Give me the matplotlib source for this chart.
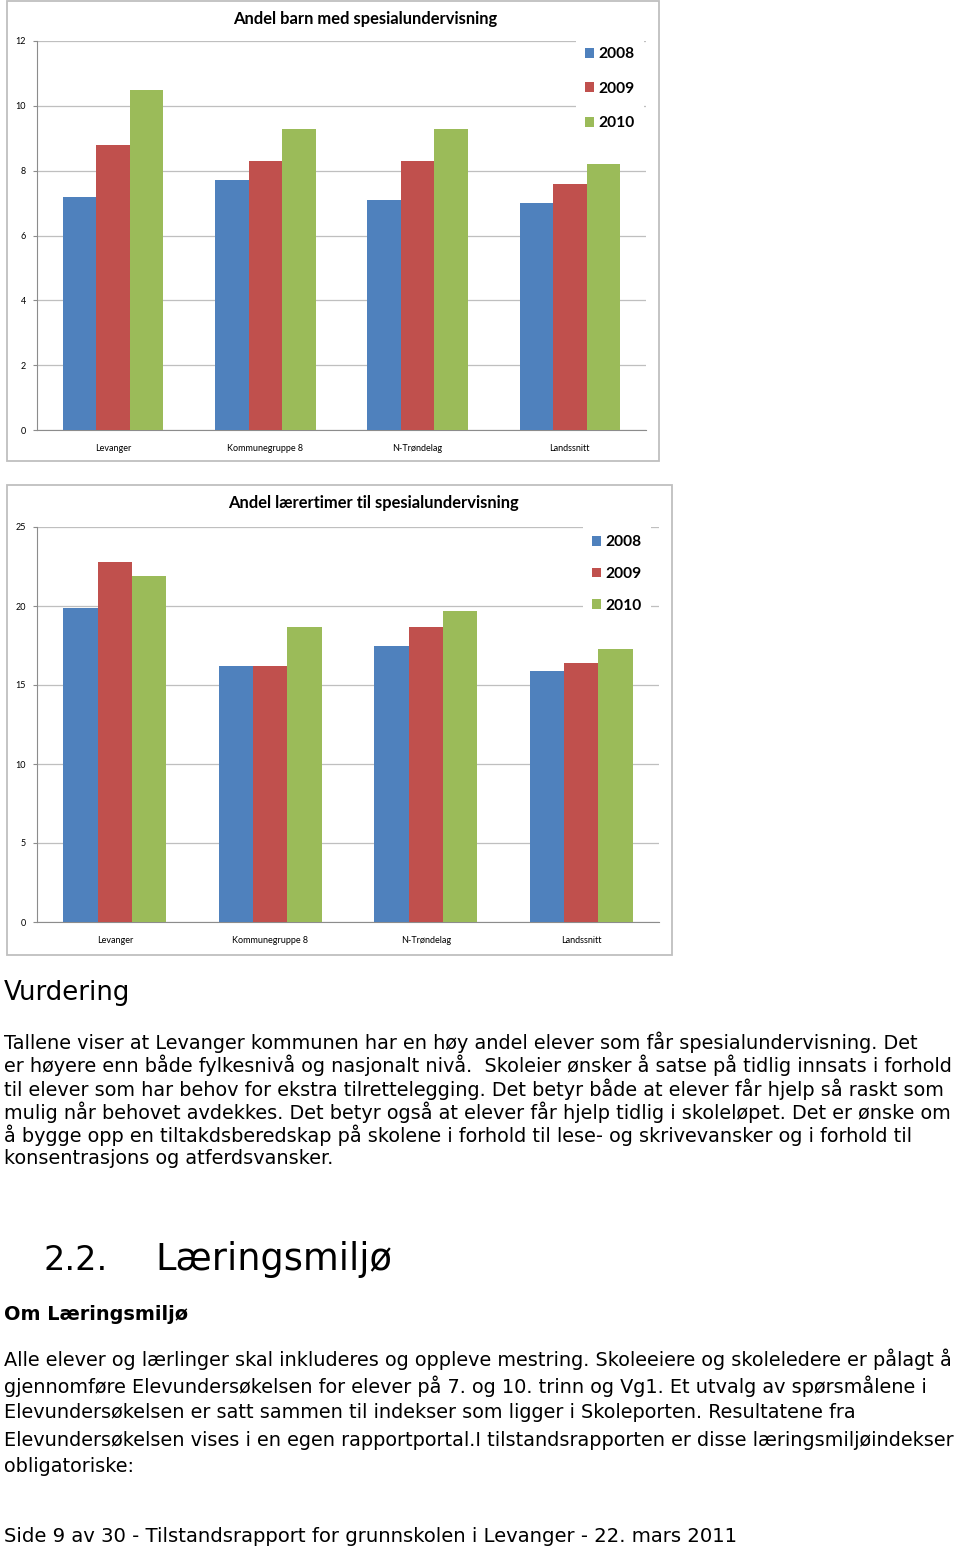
import matplotlib
matplotlib.use("Agg")
import matplotlib.pyplot as plt
from matplotlib.patches import Rectangle
import numpy as np

# data
categories = ["Levanger", "Kommunegruppe 8", "N-Trøndelag", "Landssnitt"]
years = ["2008", "2009", "2010"]
barn_2008 = [7.2, 7.7, 7.1, 7.0]
barn_2009 = [8.8, 8.3, 8.3, 7.6]
barn_2010 = [10.5, 9.3, 9.3, 8.2]
timer_2008 = [19.9, 16.2, 17.5, 15.9]
timer_2009 = [22.8, 16.2, 18.7, 16.4]
timer_2010 = [21.9, 18.7, 19.7, 17.3]

colors = ["#4F81BD", "#C0504D", "#9BBB59"]
chart_font = "Lato"

W, H = 960, 1551
fig = plt.figure(figsize=(W / 100, H / 100), dpi=100)
fig.patch.set_facecolor("white")


def fx(x):
    return x / W


def fy(y):
    return 1 - y / H


def bar_chart(box, plot, title, title_y, series, ymax, ystep, leg_xy, leg_space):
    # outer chart frame
    bx0, by0, bx1, by1 = box
    fig.add_artist(Rectangle((fx(bx0), fy(by1)), (bx1 - bx0) / W, (by1 - by0) / H,
                             fill=False, ec="#BFBFBF", lw=1.3,
                             transform=fig.transFigure))
    x0, y0, x1, y1 = plot
    ax = fig.add_axes([fx(x0), fy(y1), (x1 - x0) / W, (y1 - y0) / H])
    x = np.arange(len(categories))
    w = 0.22
    for i, vals in enumerate(series):
        ax.bar(x + (i - 1) * w, vals, w, color=colors[i], label=years[i], zorder=3)
    ax.set_xlim(-0.5, len(categories) - 0.5)
    ax.set_ylim(0, ymax)
    ax.set_yticks(np.arange(0, ymax + 0.1, ystep))
    ax.set_xticks(x)
    ax.set_xticklabels(categories)
    ax.grid(axis="y", color="#BFBFBF", lw=0.9, zorder=0)
    for s in ["top", "right"]:
        ax.spines[s].set_visible(False)
    ax.spines["left"].set_color("#8C8C8C")
    ax.spines["bottom"].set_color("#8C8C8C")
    ax.tick_params(axis="y", length=3, color="#8C8C8C", pad=5, labelsize=6.5)
    ax.tick_params(axis="x", length=0, pad=10, labelsize=6.5)
    for lab in ax.get_xticklabels() + ax.get_yticklabels():
        lab.set_fontfamily(chart_font)
    fig.text(fx(title[1]), fy(title_y), title[0], ha="center", va="center",
             fontsize=11.9, fontweight="bold", family=chart_font)
    leg = ax.legend(loc="upper left", bbox_to_anchor=(fx(leg_xy[0]), fy(leg_xy[1])),
                    bbox_transform=fig.transFigure, frameon=True,
                    prop={"family": chart_font, "weight": "bold", "size": 11.2},
                    handlelength=0.6, handleheight=0.6, handletextpad=0.25,
                    labelspacing=leg_space, borderpad=0.6, fancybox=False)
    leg.get_frame().set_facecolor("white")
    leg.get_frame().set_edgecolor("none")
    leg.get_frame().set_alpha(1)
    return ax


bar_chart((7, 1, 659, 461), (37, 41, 646, 430),
          ("Andel barn med spesialundervisning", 365), 19,
          [barn_2008, barn_2009, barn_2010], 12, 2, (568, 30), 1.33)
bar_chart((7, 485, 672, 955), (37, 527, 659, 922),
          ("Andel lærertimer til spesialundervisning", 373), 503,
          [timer_2008, timer_2009, timer_2010], 25, 5, (575, 518), 1.15)

# text below the charts
body = 13.9
fig.text(fx(4), fy(993), "Vurdering", fontsize=18.7, va="center")

para1 = [
    "Tallene viser at Levanger kommunen har en høy andel elever som får spesialundervisning. Det",
    "er høyere enn både fylkesnivå og nasjonalt nivå.  Skoleier ønsker å satse på tidlig innsats i forhold",
    "til elever som har behov for ekstra tilrettelegging. Det betyr både at elever får hjelp så raskt som",
    "mulig når behovet avdekkes. Det betyr også at elever får hjelp tidlig i skoleløpet. Det er ønske om",
    "å bygge opp en tiltakdsberedskap på skolene i forhold til lese- og skrivevansker og i forhold til",
    "konsentrasjons og atferdsvansker.",
]
for i, line in enumerate(para1):
    fig.text(fx(4), fy(1042 + i * 23.4), line, fontsize=body, va="center")

fig.text(fx(43), fy(1260), "2.2.", fontsize=24, va="center")
fig.text(fx(155), fy(1260), "Læringsmiljø", fontsize=26.5, va="center")
fig.text(fx(4), fy(1315), "Om Læringsmiljø", fontsize=13.9, fontweight="bold", va="center")

para2 = [
    "Alle elever og lærlinger skal inkluderes og oppleve mestring. Skoleeiere og skoleledere er pålagt å",
    "gjennomføre Elevundersøkelsen for elever på 7. og 10. trinn og Vg1. Et utvalg av spørsmålene i",
    "Elevundersøkelsen er satt sammen til indekser som ligger i Skoleporten. Resultatene fra",
    "Elevundersøkelsen vises i en egen rapportportal.I tilstandsrapporten er disse læringsmiljøindekser",
    "obligatoriske:",
]
for i, line in enumerate(para2):
    fig.text(fx(4), fy(1359 + i * 27), line, fontsize=body, va="center")

fig.text(fx(4), fy(1536),
         "Side 9 av 30 - Tilstandsrapport for grunnskolen i Levanger - 22. mars 2011",
         fontsize=14.1, va="center")

fig.savefig("out.png", dpi=100)
